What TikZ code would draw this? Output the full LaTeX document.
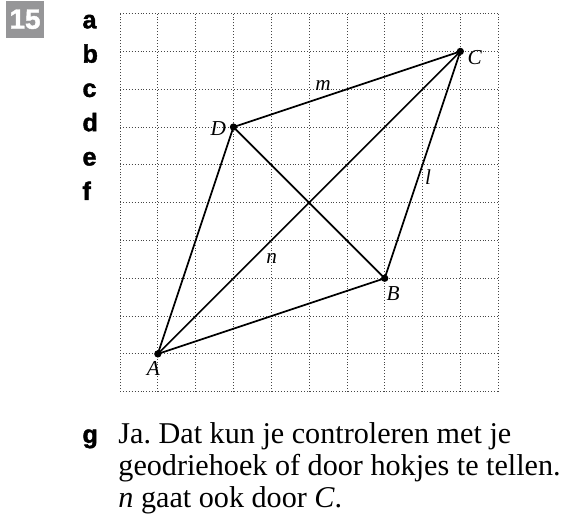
\documentclass[tikz,border=0pt]{standalone}
\usepackage{fontspec}
\setmainfont{Liberation Serif}
\newfontfamily\headfont[FakeBold=1.5]{Liberation Sans Bold}
\usepackage{tikz}
\usetikzlibrary{positioning, calc}
\definecolor{boxgray}{RGB}{150, 150, 152}
\definecolor{gridgray}{RGB}{70, 70, 70}
\frenchspacing

\tikzset{
    gridline/.style={gridgray, line width=0.6pt, dash pattern=on 0.7pt off 1.5pt},
    side/.style={black, line width=1.3pt},
    punt/.style={circle, fill=black, inner sep=0pt, minimum size=5.5pt},
    ptlabel/.style={font=\fontsize{16}{18}\selectfont\itshape, inner sep=0pt},
    partlabel/.style={font=\fontsize{19}{22}\selectfont\headfont, anchor=base west, inner sep=0pt},
    answer/.style={font=\fontsize{22.7}{24}\selectfont, anchor=base west, inner sep=0pt}
}

\begin{document}
\begin{tikzpicture}
    \useasboundingbox (-3.175,-3.42) rectangle (11.98,10.36);

    % Exercise number
    \fill[boxgray] (-3.016,9.36) rectangle (-2.01,10.34);
    \node[font=\fontsize{21}{22}\selectfont\headfont, text=white] (nr) at (-2.513,9.85) {15};

    % Part letters
    \foreach \p [count=\i from 0] in {a,b,c,d,e,f} {
        \node[partlabel] (part\p) at (-1.0, 9.61 - \i * 0.907) {\p};
    }

    % Dotted grid
    \foreach \x in {0,...,10} {
        \draw[gridline] (\x,0) -- (\x,10);
        \draw[gridline] (0,\x) -- (10,\x);
    }

    % Corner points
    \node[punt] (A) at (1,1) {};
    \node[punt] (B) at (7,3) {};
    \node[punt] (C) at (9,9) {};
    \node[punt] (D) at (3,7) {};

    % Sides and diagonals
    \draw[side] (A.center) -- (B.center) -- (C.center) -- (D.center) -- cycle;
    \draw[side] (A.center) -- (C.center);
    \draw[side] (D.center) -- (B.center);

    % Labels
    \node[ptlabel] (labA) at (0.88,0.62) {A};
    \node[ptlabel] (labB) at (7.22,2.6) {B};
    \node[ptlabel] (labC) at (9.38,8.85) {C};
    \node[ptlabel] (labD) at (2.6,6.96) {D};
    \node[ptlabel] (labm) at (5.37,8.11) {m};
    \node[ptlabel] (labl) at (8.15,5.68) {l};
    \node[ptlabel] (labn) at (4.01,3.52) {n};

    % Answer g
    \node[partlabel] (partg) at (-1.0,-1.357) {g};
    \node[answer] (line1) at (-0.05,-1.357) {Ja. Dat kun je controleren met je};
    \node[answer] (line2) at (-0.05,-2.204) {geodriehoek of door hokjes te tellen.};
    \node[answer] (line3) at (-0.05,-3.05) {\textit{n} gaat ook door \textit{C}.};
\end{tikzpicture}
\end{document}
